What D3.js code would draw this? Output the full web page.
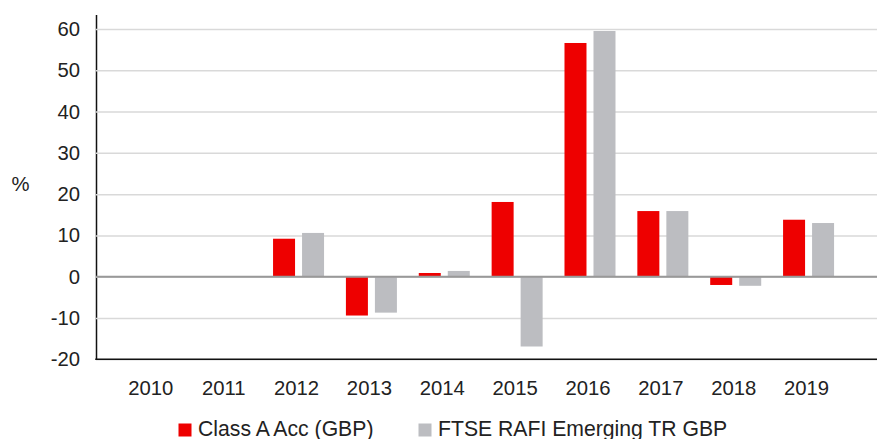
<!DOCTYPE html>
<html>
<head>
<meta charset="utf-8">
<script src="https://cdn.jsdelivr.net/npm/d3@7"></script>
<style>
  html, body { margin: 0; padding: 0; background: #fff; }
  svg { display: block; font-family: "Liberation Sans", Arial, sans-serif; }
</style>
</head>
<body>
<div id="plot"></div>
<script>
// chart values
const years = ["2010","2011","2012","2013","2014","2015","2016","2017","2018","2019"];
const seriesNames = ["Class A Acc (GBP)", "FTSE RAFI Emerging TR GBP"];
const classA = [null, null, 9.2, -9.4, 0.9, 18.1, 56.6, 15.9, -2.0, 13.8];
const ftseRafi = [null, null, 10.6, -8.7, 1.4, -16.9, 59.5, 15.9, -2.2, 13.0];
const yTicks = [-20, -10, 0, 10, 20, 30, 40, 50, 60];
const colors = ["#ee0000", "#bcbdc1"];

window.addEventListener("load", main);

function main(){
  let [svgWidth, svgHeight] = [877, 439];
  let plotLeft = 96, plotRight = 877;

  let svg = d3.select('#plot').append('svg')
    .attr('width', svgWidth)
    .attr('height', svgHeight);

  let rows = years.map((yr, i) => ({year: yr, vals: [classA[i], ftseRafi[i]]}));

  let xsc = d3.scaleBand()
    .domain(years)
    .range([116.4, 845])
    .paddingInner(0.3)
    .paddingOuter(0.15);

  let x1 = d3.scaleBand()
    .domain([0, 1])
    .range([0, xsc.bandwidth()])
    .paddingInner(0.2414);

  let ysc = d3.scaleLinear()
    .domain([-20, 63.5])
    .range([359.3, 14.5]);

  // gridlines + left axis
  let yAx = svg.append('g')
    .attr('transform', `translate(${plotLeft},0)`)
    .call(d3.axisLeft(ysc)
      .tickValues(yTicks)
      .tickFormat(d => String(d))
      .tickSizeInner(-(plotRight - plotLeft))
      .tickSizeOuter(0)
      .tickPadding(16));
  yAx.selectAll('.tick line')
     .attr('stroke', '#d9d9d9')
     .attr('stroke-width', 1.5);
  yAx.selectAll('.tick text')
     .attr('fill', '#222')
     .attr('font-size', 20.3)
     .attr('font-family', '"Liberation Sans", Arial, sans-serif');
  yAx.select('.domain')
     .attr('stroke', '#111')
     .attr('stroke-width', 1.5);

  // bars
  let groups = svg.append('g').selectAll('g')
    .data(rows)
    .join('g')
      .attr('transform', d => `translate(${xsc(d.year)},0)`);

  groups.selectAll('rect')
    .data(d => d.vals.map((v, k) => ({k: k, v: v})).filter(e => e.v !== null))
    .join('rect')
      .attr('x', e => x1(e.k))
      .attr('width', x1.bandwidth())
      .attr('y', e => ysc(Math.max(0, e.v)))
      .attr('height', e => Math.abs(ysc(e.v) - ysc(0)))
      .attr('fill', e => colors[e.k]);

  // zero line
  svg.append('line')
    .attr('x1', plotLeft).attr('x2', plotRight)
    .attr('y1', ysc(0)).attr('y2', ysc(0))
    .attr('stroke', '#999')
    .attr('stroke-width', 2);

  // bottom line
  svg.append('line')
    .attr('x1', plotLeft - 0.75).attr('x2', plotRight)
    .attr('y1', ysc(-20)).attr('y2', ysc(-20))
    .attr('stroke', '#111')
    .attr('stroke-width', 1.5);

  // x axis labels
  let xAx = svg.append('g')
    .attr('transform', `translate(-2,${ysc(-20)})`)
    .call(d3.axisBottom(xsc).tickSize(0).tickPadding(21.5));
  xAx.select('.domain').remove();
  xAx.selectAll('.tick text')
     .attr('fill', '#222')
     .attr('font-size', 20.3)
     .attr('font-family', '"Liberation Sans", Arial, sans-serif');

  // y unit label
  svg.append('text')
    .attr('x', 11.5).attr('y', 191)
    .attr('fill', '#222')
    .attr('font-size', 20.3)
    .text('%');

  // legend
  let legendX = [178.5, 418.5];
  let legend = svg.append('g').selectAll('g')
    .data(seriesNames)
    .join('g')
      .attr('transform', (d, i) => `translate(${legendX[i]},423.5)`);
  legend.append('rect')
    .attr('width', 13).attr('height', 13)
    .attr('fill', (d, i) => colors[i]);
  legend.append('text')
    .attr('x', 19.5).attr('y', 12.8)
    .attr('fill', '#222')
    .attr('font-size', 21.2)
    .text(d => d);
}
</script>
</body>
</html>
